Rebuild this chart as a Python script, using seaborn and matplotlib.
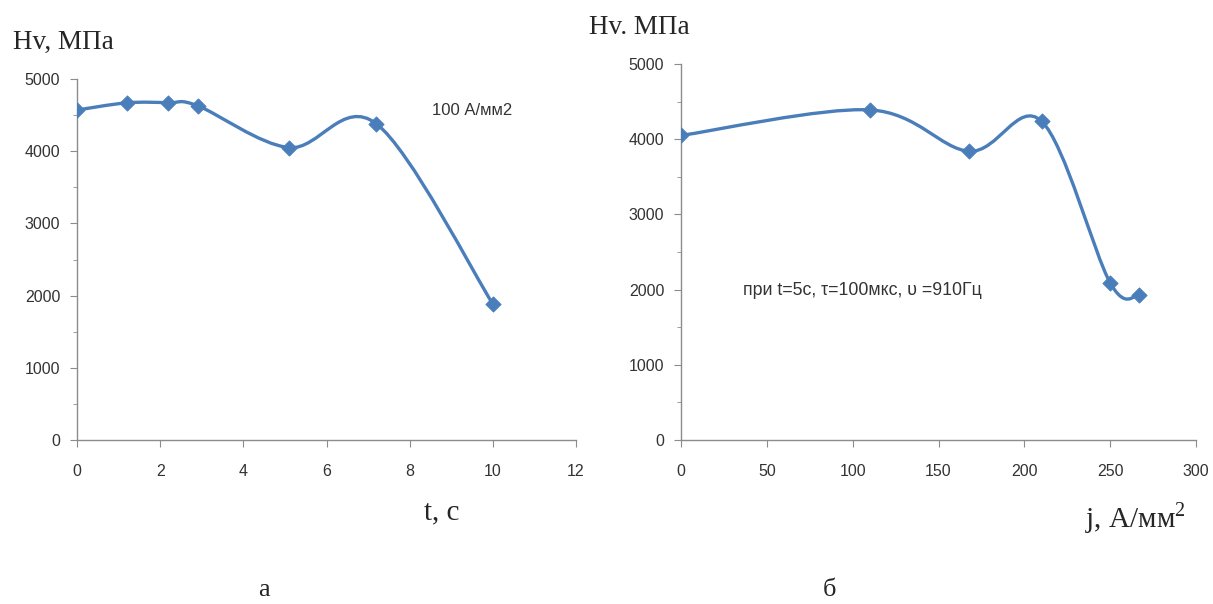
import numpy as np
import pandas as pd
import matplotlib
matplotlib.use("Agg")
import matplotlib.pyplot as plt
import seaborn as sns
from matplotlib.path import Path
from matplotlib.patches import PathPatch
from matplotlib.ticker import MultipleLocator

# ---- data ----
t_s = [0, 1.2, 2.2, 2.9, 5.1, 7.2, 10]
hv_a = [4570, 4670, 4670, 4630, 4050, 4380, 1885]
j_amm2 = [0, 110, 168, 210, 250, 267]
hv_b = [4050, 4390, 3840, 4240, 2090, 1930]
note_a = "100 А/мм2"
note_b = "при t=5с, τ=100мкс, υ =910Гц"

sns.set_style("white")
plt.rcParams['font.family'] = ['Liberation Sans Narrow', 'Liberation Sans', 'DejaVu Sans']

BLUE = "#4A7EBB"
GRAY = "#8C8C8C"
SERIF = ['Liberation Serif', 'DejaVu Serif']

fig = plt.figure(figsize=(12.13, 6.04), dpi=100)
axA = fig.add_axes([77/1213, 1-440/604, (576-77)/1213, (440-79)/604])
axB = fig.add_axes([681/1213, 1-440/604, (1196-681)/1213, (440-64)/604])


def smooth_path(xs, ys):
    P = np.column_stack([xs, ys]).astype(float)
    n = len(P)
    verts = [P[0]]
    codes = [Path.MOVETO]
    for i in range(n - 1):
        p0 = P[i - 1] if i > 0 else P[i]
        p1 = P[i]
        p2 = P[i + 1]
        p3 = P[i + 2] if i + 2 < n else P[i + 1]
        c1 = p1 + (p2 - p0) / 6.0
        c2 = p2 - (p3 - p1) / 6.0
        verts += [c1, c2, p2]
        codes += [Path.CURVE4] * 3
    return Path(verts, codes)


def draw(ax, xs, ys, xmax, xstep):
    ax.add_patch(PathPatch(smooth_path(xs, ys), facecolor='none',
                           edgecolor=BLUE, lw=2.4, zorder=3, capstyle='round'))
    df = pd.DataFrame({"x": xs, "y": ys})
    sns.scatterplot(data=df, x="x", y="y", ax=ax, marker='D', s=60,
                    color=BLUE, edgecolor=BLUE, zorder=4, legend=False)
    ax.set_xlim(0, xmax)
    ax.set_ylim(0, 5000)
    ax.xaxis.set_major_locator(MultipleLocator(xstep))
    ax.yaxis.set_major_locator(MultipleLocator(1000))
    ax.yaxis.set_minor_locator(MultipleLocator(500))
    for s in ['top', 'right']:
        ax.spines[s].set_visible(False)
    for s in ['left', 'bottom']:
        ax.spines[s].set_color(GRAY)
        ax.spines[s].set_linewidth(1.0)
    ax.tick_params(axis='both', which='both', direction='out', color=GRAY,
                   labelcolor='#333333', labelsize=11.5)
    ax.tick_params(axis='y', which='major', length=5, pad=7, left=True)
    ax.tick_params(axis='y', which='minor', length=3, left=True)
    ax.tick_params(axis='x', which='major', length=5, pad=12, bottom=True)
    ax.set_xlabel("")
    ax.set_ylabel("")
    ax.patch.set_alpha(0)


draw(axA, t_s, hv_a, 12, 2)
draw(axB, j_amm2, hv_b, 300, 50)

axA.text(9.5, 4560, note_a, fontsize=12, color='#333333', ha='center', va='center')
axB.text(36, 1985, note_b, fontsize=12.8, color='#333333', ha='left', va='center')

fig.text(13/1213, 1-42/604, "Hv, МПа", family=SERIF, fontsize=19.5, va='center', ha='left')
fig.text(589/1213, 1-27/604, "Hv. МПа", family=SERIF, fontsize=19.5, va='center', ha='left')
fig.text(442/1213, 1-512/604, "t, с", family=SERIF, fontsize=21, va='center', ha='center')
fig.text(1135/1213, 1-518/604, "j, А/мм$^{\\mathregular{2}}$", family=SERIF, fontsize=21,
         va='center', ha='center')
fig.text(264/1213, 1-590/604, "а", family=SERIF, fontsize=19, va='center', ha='center')
fig.text(830/1213, 1-590/604, "б", family=SERIF, fontsize=19, va='center', ha='center')

fig.savefig("out.png", dpi=100)
